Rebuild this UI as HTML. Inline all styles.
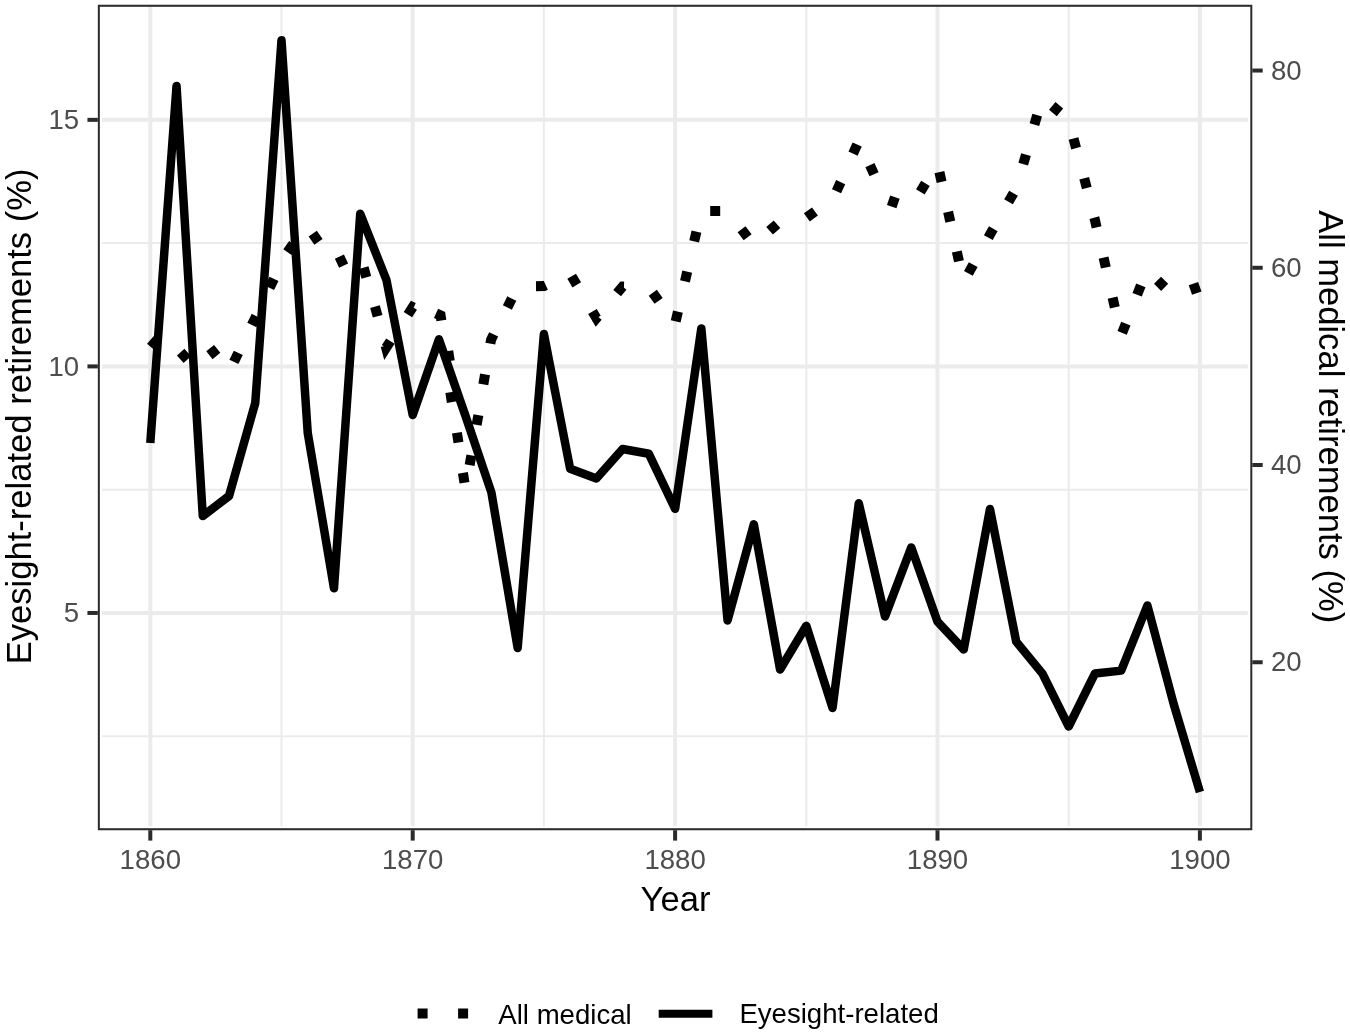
<!DOCTYPE html>
<html><head><meta charset="utf-8"><style>
html,body{margin:0;padding:0;background:#fff;}
body{width:1350px;height:1035px;overflow:hidden;}
svg{display:block;will-change:transform;}
text{font-family:"Liberation Sans",sans-serif;}
</style></head><body>
<svg width="1350" height="1035" viewBox="0 0 1350 1035">
<rect x="0" y="0" width="1350" height="1035" fill="#FFFFFF"/>
<defs><clipPath id="pc"><rect x="97.84" y="4.8" width="1154.46" height="825.4"/></clipPath>
<clipPath id="gc"><rect x="102" y="4.8" width="1145.8" height="821.4"/></clipPath></defs>
<g clip-path="url(#pc)">
<g stroke="#EBEBEB" fill="none" clip-path="url(#gc)">
<line x1="97.84" x2="1252.3" y1="736.23" y2="736.23" stroke-width="2"/>
<line x1="97.84" x2="1252.3" y1="489.67" y2="489.67" stroke-width="2"/>
<line x1="97.84" x2="1252.3" y1="243.12" y2="243.12" stroke-width="2"/>
<line x1="281.5" x2="281.5" y1="4.8" y2="830.2" stroke-width="2"/>
<line x1="543.9" x2="543.9" y1="4.8" y2="830.2" stroke-width="2"/>
<line x1="806.3" x2="806.3" y1="4.8" y2="830.2" stroke-width="2"/>
<line x1="1068.7" x2="1068.7" y1="4.8" y2="830.2" stroke-width="2"/>
<line x1="97.84" x2="1252.3" y1="612.95" y2="612.95" stroke-width="4"/>
<line x1="97.84" x2="1252.3" y1="366.4" y2="366.4" stroke-width="4"/>
<line x1="97.84" x2="1252.3" y1="119.85" y2="119.85" stroke-width="4"/>
<line x1="150.3" x2="150.3" y1="4.8" y2="830.2" stroke-width="4"/>
<line x1="412.7" x2="412.7" y1="4.8" y2="830.2" stroke-width="4"/>
<line x1="675.1" x2="675.1" y1="4.8" y2="830.2" stroke-width="4"/>
<line x1="937.5" x2="937.5" y1="4.8" y2="830.2" stroke-width="4"/>
<line x1="1199.9" x2="1199.9" y1="4.8" y2="830.2" stroke-width="4"/>
</g>
<g fill="none" stroke="#000" stroke-width="10.0" stroke-linecap="butt" stroke-linejoin="miter" stroke-miterlimit="10">
<path d="M150.3 340 L157.88 346.53"/>
<path d="M180.28 359.24 L187.72 352.56"/>
<path d="M210.17 348.2 L216.43 356"/>
<path d="M233.91 361.9 L238.29 352.9"/>
<path d="M251.81 325 L255.3 317.82 L256.19 316.01"/>
<path d="M269.61 287.89 L273.99 278.91"/>
<path d="M287.41 252.08 L293.19 243.92"/>
<path d="M312.74 233.7 L318.46 241.9"/>
<path d="M336.97 263.21 L346.03 258.99"/>
<path d="M363.68 267.68 L366.32 277.32"/>
<path d="M374.98 306.58 L377.62 316.22"/>
<path d="M385.57 345.79 L386.11 347.78 L390.4 341.09"/>
<path d="M407.9 314.61 L412.75 307.03 L413.67 307.45"/>
<path d="M436.05 313.42 L440.6 315.5 L441.37 320.44"/>
<path d="M448.23 351.06 L449.77 360.94"/>
<path d="M450.33 392.26 L451.87 402.14"/>
<path d="M456.93 432.66 L458.47 442.54"/>
<path d="M462.93 472.86 L464.47 482.74"/>
<path d="M469.63 465.22 L471.37 455.38"/>
<path d="M476.63 424.92 L478.37 415.08"/>
<path d="M483.33 384.32 L485.07 374.48"/>
<path d="M490.36 343.74 L491.05 339.82 L493.7 334.41"/>
<path d="M507.4 307.49 L511.8 298.51"/>
<path d="M536 286.16 L543.9 286.07 L545.8 285.18"/>
<path d="M571.66 276.29 L576.74 284.91"/>
<path d="M592.46 311.49 L596.41 318.18 L597.83 316.47"/>
<path d="M617.11 293.15 L622.62 286.5 L623.98 286.54"/>
<path d="M652.79 292.73 L658.61 300.87"/>
<path d="M675.67 321.37 L677.93 311.63"/>
<path d="M684.97 281.47 L687.23 271.73"/>
<path d="M694.17 241.27 L696.43 231.53"/>
<path d="M710.2 211 L720.2 211"/>
<path d="M741.56 229.33 L747.64 237.27"/>
<path d="M769.57 230.83 L777.03 224.17"/>
<path d="M806.85 217.33 L814.95 211.47"/>
<path d="M836.55 191.26 L840.65 182.14"/>
<path d="M853.05 153.66 L857.15 144.54"/>
<path d="M869.95 165.14 L874.05 174.26"/>
<path d="M888.56 200.19 L898.04 203.41"/>
<path d="M920.33 191.89 L925.47 183.31"/>
<path d="M939.41 172.12 L941.59 181.88"/>
<path d="M948.11 211.82 L950.29 221.58"/>
<path d="M956.81 251.52 L958.99 261.28"/>
<path d="M968.39 273.38 L973.21 264.62"/>
<path d="M988.36 237.56 L990.07 234.45 L993.3 228.87"/>
<path d="M1008.5 201.83 L1013.5 193.17"/>
<path d="M1023.22 164.21 L1025.98 154.59"/>
<path d="M1034.42 124.71 L1037.18 115.09"/>
<path d="M1052.27 105.89 L1059.93 112.31"/>
<path d="M1073.52 138.47 L1076.08 148.13"/>
<path d="M1084.22 178.27 L1086.78 187.93"/>
<path d="M1094.35 217.63 L1094.72 219.05 L1096.6 227.38"/>
<path d="M1103.6 257.72 L1105.8 267.48"/>
<path d="M1112.6 297.62 L1114.8 307.38"/>
<path d="M1122.14 332.94 L1125.86 323.66"/>
<path d="M1137.14 294.74 L1140.86 285.46"/>
<path d="M1157.53 280.29 L1164.67 287.31"/>
<path d="M1190.39 290.07 L1199.81 286.73"/>
</g>
<g fill="none" stroke="#000" stroke-width="8.5" stroke-linecap="butt" stroke-linejoin="round">
<path d="M150.3 443 L176.54 86 L202.78 516 L229.02 496 L255.26 403 L281.5 40.3 L307.74 433 L333.98 588.2 L360.22 213.8 L386.46 280 L412.7 415 L438.94 339.3 L465.18 415 L491.42 492.5 L517.66 648 L543.9 334 L570.14 468.7 L596.38 478.5 L622.62 449 L648.86 453.8 L675.1 508.8 L701.34 328.4 L727.58 620.5 L753.82 524.3 L780.06 669.5 L806.3 625.8 L832.54 708 L858.78 503.3 L885.02 616.5 L911.26 547.4 L937.5 621.7 L963.74 649.5 L989.98 509 L1016.22 641.6 L1042.46 673.6 L1068.7 726.5 L1094.94 673.5 L1121.18 670.6 L1147.42 605.5 L1173.66 704 L1199.9 792"/>
</g>
<rect x="97.84" y="4.8" width="1154.46" height="825.4" fill="none" stroke="#2B2B2B" stroke-width="4"/>
</g>
<g stroke="#2B2B2B" stroke-width="4" fill="none">
<line x1="150.3" x2="150.3" y1="830.2" y2="840.6"/>
<line x1="412.7" x2="412.7" y1="830.2" y2="840.6"/>
<line x1="675.1" x2="675.1" y1="830.2" y2="840.6"/>
<line x1="937.5" x2="937.5" y1="830.2" y2="840.6"/>
<line x1="1199.9" x2="1199.9" y1="830.2" y2="840.6"/>
<line x1="87.44" x2="97.84" y1="612.95" y2="612.95"/>
<line x1="87.44" x2="97.84" y1="366.4" y2="366.4"/>
<line x1="87.44" x2="97.84" y1="119.85" y2="119.85"/>
<line x1="1252.3" x2="1262.7" y1="662.26" y2="662.26"/>
<line x1="1252.3" x2="1262.7" y1="465.02" y2="465.02"/>
<line x1="1252.3" x2="1262.7" y1="267.78" y2="267.78"/>
<line x1="1252.3" x2="1262.7" y1="70.54" y2="70.54"/>
</g>
<g fill="#4D4D4D" font-size="27.6">
<text x="150.3" y="869.3" text-anchor="middle">1860</text>
<text x="412.7" y="869.3" text-anchor="middle">1870</text>
<text x="675.1" y="869.3" text-anchor="middle">1880</text>
<text x="937.5" y="869.3" text-anchor="middle">1890</text>
<text x="1199.9" y="869.3" text-anchor="middle">1900</text>
<text x="79.1" y="622.35" text-anchor="end">5</text>
<text x="79.1" y="375.8" text-anchor="end">10</text>
<text x="79.1" y="129.25" text-anchor="end">15</text>
<text x="1271" y="671.46">20</text>
<text x="1271" y="474.22">40</text>
<text x="1271" y="276.98">60</text>
<text x="1271" y="79.74">80</text>
</g>
<g fill="#000">
<text x="675.5" y="910.6" text-anchor="middle" font-size="34.6">Year</text>
<text transform="translate(30.7 416.4) rotate(-90)" text-anchor="middle" font-size="34.6">Eyesight-related retirements (%)</text>
<text transform="translate(1319.3 416.7) rotate(90)" text-anchor="middle" font-size="34.6">All medical retirements (%)</text>
</g>
<g>
<line x1="417.6" x2="471.4" y1="1013.6" y2="1013.6" stroke="#000" stroke-width="10.0" stroke-dasharray="10 30.5"/>
<line x1="658.7" x2="712.4" y1="1013.8" y2="1013.8" stroke="#000" stroke-width="8"/>
<text x="498.3" y="1023.8" font-size="27.6" fill="#000">All medical</text>
<text x="739.4" y="1023.4" font-size="27.6" fill="#000">Eyesight-related</text>
</g>
</svg>
</body></html>
